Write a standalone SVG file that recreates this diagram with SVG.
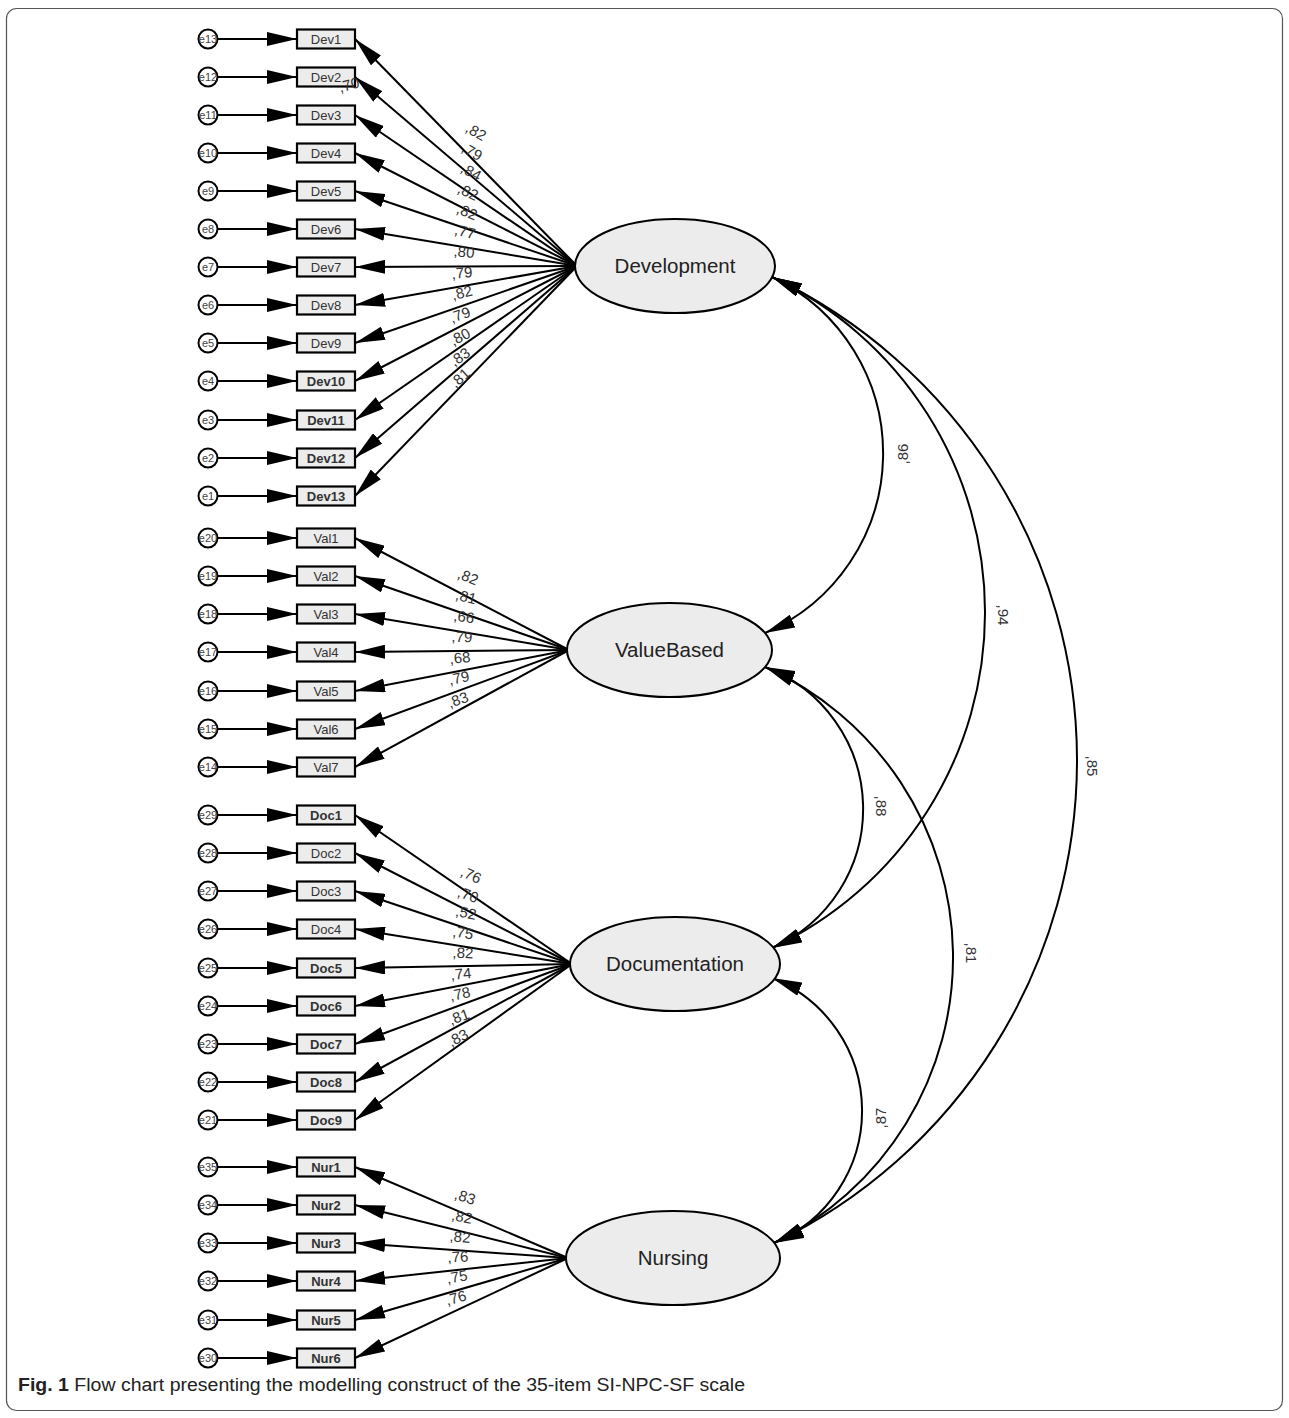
<svg xmlns="http://www.w3.org/2000/svg" width="1289" height="1418" viewBox="0 0 1289 1418">
<style>
.err{fill:#fff;stroke:#000;stroke-width:2}
.et{font-family:"Liberation Sans",Arial,sans-serif;font-size:11px;fill:#444;text-anchor:middle}
.obs{fill:#ececec;stroke:#000;stroke-width:2.2}
.ot{font-family:"Liberation Sans",Arial,sans-serif;font-size:13px;fill:#333;text-anchor:middle}
.otb{font-family:"Liberation Sans",Arial,sans-serif;font-size:13px;fill:#333;text-anchor:middle;font-weight:bold}
.lat{fill:#ececec;stroke:#000;stroke-width:2}
.lt{font-family:"Liberation Sans",Arial,sans-serif;font-size:20.5px;fill:#222;text-anchor:middle}
.cn line,.cn path{stroke:#000;stroke-width:2;fill:none}
.lab{font-family:"Liberation Sans",Arial,sans-serif;font-size:15px;fill:#333;text-anchor:middle}
.cap{font-family:"Liberation Sans",Arial,sans-serif;font-size:18px;fill:#222}
</style>
<defs>
<marker id="ah" viewBox="0 0 30 14" refX="30" refY="7" markerWidth="30" markerHeight="14" markerUnits="userSpaceOnUse" orient="auto-start-reverse"><path d="M0,0 L30,7 L0,14 Z" fill="#000"/></marker>
</defs>
<rect x="6.5" y="8.5" width="1276" height="1402" rx="10" fill="none" stroke="#555" stroke-width="1.2"/>

<g class="cn" id="connectors">
<g marker-end="url(#ah)">
<line x1="218" y1="39" x2="297" y2="39"/><line x1="218" y1="77" x2="297" y2="77"/><line x1="218" y1="115" x2="297" y2="115"/><line x1="218" y1="153" x2="297" y2="153"/><line x1="218" y1="191" x2="297" y2="191"/><line x1="218" y1="229" x2="297" y2="229"/><line x1="218" y1="267" x2="297" y2="267"/><line x1="218" y1="305" x2="297" y2="305"/><line x1="218" y1="343" x2="297" y2="343"/><line x1="218" y1="381" x2="297" y2="381"/><line x1="218" y1="420" x2="297" y2="420"/><line x1="218" y1="458" x2="297" y2="458"/><line x1="218" y1="496" x2="297" y2="496"/>
<line x1="218" y1="538" x2="297" y2="538"/><line x1="218" y1="576" x2="297" y2="576"/><line x1="218" y1="614" x2="297" y2="614"/><line x1="218" y1="652" x2="297" y2="652"/><line x1="218" y1="691" x2="297" y2="691"/><line x1="218" y1="729" x2="297" y2="729"/><line x1="218" y1="767" x2="297" y2="767"/>
<line x1="218" y1="815" x2="297" y2="815"/><line x1="218" y1="853" x2="297" y2="853"/><line x1="218" y1="891" x2="297" y2="891"/><line x1="218" y1="929" x2="297" y2="929"/><line x1="218" y1="968" x2="297" y2="968"/><line x1="218" y1="1006" x2="297" y2="1006"/><line x1="218" y1="1044" x2="297" y2="1044"/><line x1="218" y1="1082" x2="297" y2="1082"/><line x1="218" y1="1120" x2="297" y2="1120"/>
<line x1="218" y1="1167" x2="297" y2="1167"/><line x1="218" y1="1205" x2="297" y2="1205"/><line x1="218" y1="1243" x2="297" y2="1243"/><line x1="218" y1="1281" x2="297" y2="1281"/><line x1="218" y1="1320" x2="297" y2="1320"/><line x1="218" y1="1358" x2="297" y2="1358"/>
<line x1="577" y1="266" x2="355" y2="39"/><line x1="577" y1="266" x2="355" y2="77"/><line x1="577" y1="266" x2="355" y2="115"/><line x1="577" y1="266" x2="355" y2="153"/><line x1="577" y1="266" x2="355" y2="191"/><line x1="577" y1="266" x2="355" y2="229"/><line x1="577" y1="266" x2="355" y2="267"/><line x1="577" y1="266" x2="355" y2="305"/><line x1="577" y1="266" x2="355" y2="343"/><line x1="577" y1="266" x2="355" y2="381"/><line x1="577" y1="266" x2="355" y2="420"/><line x1="577" y1="266" x2="355" y2="458"/><line x1="577" y1="266" x2="355" y2="496"/>
<line x1="569" y1="650" x2="355" y2="538"/><line x1="569" y1="650" x2="355" y2="576"/><line x1="569" y1="650" x2="355" y2="614"/><line x1="569" y1="650" x2="355" y2="652"/><line x1="569" y1="650" x2="355" y2="691"/><line x1="569" y1="650" x2="355" y2="729"/><line x1="569" y1="650" x2="355" y2="767"/>
<line x1="572" y1="964" x2="355" y2="815"/><line x1="572" y1="964" x2="355" y2="853"/><line x1="572" y1="964" x2="355" y2="891"/><line x1="572" y1="964" x2="355" y2="929"/><line x1="572" y1="964" x2="355" y2="968"/><line x1="572" y1="964" x2="355" y2="1006"/><line x1="572" y1="964" x2="355" y2="1044"/><line x1="572" y1="964" x2="355" y2="1082"/><line x1="572" y1="964" x2="355" y2="1120"/>
<line x1="568" y1="1258" x2="355" y2="1167"/><line x1="568" y1="1258" x2="355" y2="1205"/><line x1="568" y1="1258" x2="355" y2="1243"/><line x1="568" y1="1258" x2="355" y2="1281"/><line x1="568" y1="1258" x2="355" y2="1320"/><line x1="568" y1="1258" x2="355" y2="1358"/>
</g>
<g marker-start="url(#ah)" marker-end="url(#ah)">
<path d="M772,277 A195.6,195.6 0 0 1 765,633"/>
<path d="M772,277 A370.7,370.7 0 0 1 772,948"/>
<path d="M772,277 A535.7,535.7 0 0 1 774,1243"/>
<path d="M765,667 A151.7,151.7 0 0 1 772,948"/>
<path d="M765,667 A317.8,317.8 0 0 1 774,1243"/>
<path d="M772,978 A143.1,143.1 0 0 1 774,1243"/>
</g>
<g>
<text transform="translate(476,132) rotate(30)" y="5" class="lab">,82</text>
<text transform="translate(472,152) rotate(30)" y="5" class="lab">,79</text>
<text transform="translate(471,172) rotate(28)" y="5" class="lab">,84</text>
<text transform="translate(468,192) rotate(25)" y="5" class="lab">,82</text>
<text transform="translate(467,212) rotate(22)" y="5" class="lab">,82</text>
<text transform="translate(465,232) rotate(14)" y="5" class="lab">,77</text>
<text transform="translate(464,252) rotate(5)" y="5" class="lab">,80</text>
<text transform="translate(462,273) rotate(-5)" y="5" class="lab">,79</text>
<text transform="translate(462,293) rotate(-14)" y="5" class="lab">,82</text>
<text transform="translate(460,315) rotate(-20)" y="5" class="lab">,79</text>
<text transform="translate(460,337) rotate(-28)" y="5" class="lab">,80</text>
<text transform="translate(460,357) rotate(-35)" y="5" class="lab">,83</text>
<text transform="translate(460,378) rotate(-42)" y="5" class="lab">,81</text>
<text transform="translate(468,577) rotate(22)" y="5" class="lab">,82</text>
<text transform="translate(466,597) rotate(15)" y="5" class="lab">,81</text>
<text transform="translate(464,617) rotate(8)" y="5" class="lab">,66</text>
<text transform="translate(462,637) rotate(3)" y="5" class="lab">,79</text>
<text transform="translate(460,658) rotate(-5)" y="5" class="lab">,68</text>
<text transform="translate(459,678) rotate(-12)" y="5" class="lab">,79</text>
<text transform="translate(458,700) rotate(-20)" y="5" class="lab">,83</text>
<text transform="translate(471,875) rotate(25)" y="5" class="lab">,76</text>
<text transform="translate(468,895) rotate(20)" y="5" class="lab">,70</text>
<text transform="translate(466,913) rotate(12)" y="5" class="lab">,52</text>
<text transform="translate(463,933) rotate(8)" y="5" class="lab">,75</text>
<text transform="translate(463,953) rotate(3)" y="5" class="lab">,82</text>
<text transform="translate(461,974) rotate(-5)" y="5" class="lab">,74</text>
<text transform="translate(460,994) rotate(-12)" y="5" class="lab">,78</text>
<text transform="translate(459,1017) rotate(-20)" y="5" class="lab">,81</text>
<text transform="translate(458,1038) rotate(-28)" y="5" class="lab">,83</text>
<text transform="translate(465,1197) rotate(18)" y="5" class="lab">,83</text>
<text transform="translate(462,1217) rotate(12)" y="5" class="lab">,82</text>
<text transform="translate(460,1237) rotate(5)" y="5" class="lab">,82</text>
<text transform="translate(458,1257) rotate(-3)" y="5" class="lab">,76</text>
<text transform="translate(457,1277) rotate(-10)" y="5" class="lab">,75</text>
<text transform="translate(456,1298) rotate(-15)" y="5" class="lab">,76</text>
<text transform="translate(903,454) rotate(-90)" y="5" class="lab">,86</text>
<text transform="translate(1003,615) rotate(90)" y="5" class="lab">,94</text>
<text transform="translate(1092,766) rotate(90)" y="5" class="lab">,85</text>
<text transform="translate(881,806) rotate(90)" y="5" class="lab">,88</text>
<text transform="translate(971,953) rotate(90)" y="5" class="lab">,81</text>
<text transform="translate(881,1118) rotate(-90)" y="5" class="lab">,87</text>
</g>
</g>

<g id="errors">
<g id="e13"><circle cx="208" cy="39" r="9.5" class="err"/><text x="208" y="43" class="et">e13</text></g>
<g id="e12"><circle cx="208" cy="77" r="9.5" class="err"/><text x="208" y="81" class="et">e12</text></g>
<g id="e11"><circle cx="208" cy="115" r="9.5" class="err"/><text x="208" y="119" class="et">e11</text></g>
<g id="e10"><circle cx="208" cy="153" r="9.5" class="err"/><text x="208" y="157" class="et">e10</text></g>
<g id="e9"><circle cx="208" cy="191" r="9.5" class="err"/><text x="208" y="195" class="et">e9</text></g>
<g id="e8"><circle cx="208" cy="229" r="9.5" class="err"/><text x="208" y="233" class="et">e8</text></g>
<g id="e7"><circle cx="208" cy="267" r="9.5" class="err"/><text x="208" y="271" class="et">e7</text></g>
<g id="e6"><circle cx="208" cy="305" r="9.5" class="err"/><text x="208" y="309" class="et">e6</text></g>
<g id="e5"><circle cx="208" cy="343" r="9.5" class="err"/><text x="208" y="347" class="et">e5</text></g>
<g id="e4"><circle cx="208" cy="381" r="9.5" class="err"/><text x="208" y="385" class="et">e4</text></g>
<g id="e3"><circle cx="208" cy="420" r="9.5" class="err"/><text x="208" y="424" class="et">e3</text></g>
<g id="e2"><circle cx="208" cy="458" r="9.5" class="err"/><text x="208" y="462" class="et">e2</text></g>
<g id="e1"><circle cx="208" cy="496" r="9.5" class="err"/><text x="208" y="500" class="et">e1</text></g>
<g id="e20"><circle cx="208" cy="538" r="9.5" class="err"/><text x="208" y="542" class="et">e20</text></g>
<g id="e19"><circle cx="208" cy="576" r="9.5" class="err"/><text x="208" y="580" class="et">e19</text></g>
<g id="e18"><circle cx="208" cy="614" r="9.5" class="err"/><text x="208" y="618" class="et">e18</text></g>
<g id="e17"><circle cx="208" cy="652" r="9.5" class="err"/><text x="208" y="656" class="et">e17</text></g>
<g id="e16"><circle cx="208" cy="691" r="9.5" class="err"/><text x="208" y="695" class="et">e16</text></g>
<g id="e15"><circle cx="208" cy="729" r="9.5" class="err"/><text x="208" y="733" class="et">e15</text></g>
<g id="e14"><circle cx="208" cy="767" r="9.5" class="err"/><text x="208" y="771" class="et">e14</text></g>
<g id="e29"><circle cx="208" cy="815" r="9.5" class="err"/><text x="208" y="819" class="et">e29</text></g>
<g id="e28"><circle cx="208" cy="853" r="9.5" class="err"/><text x="208" y="857" class="et">e28</text></g>
<g id="e27"><circle cx="208" cy="891" r="9.5" class="err"/><text x="208" y="895" class="et">e27</text></g>
<g id="e26"><circle cx="208" cy="929" r="9.5" class="err"/><text x="208" y="933" class="et">e26</text></g>
<g id="e25"><circle cx="208" cy="968" r="9.5" class="err"/><text x="208" y="972" class="et">e25</text></g>
<g id="e24"><circle cx="208" cy="1006" r="9.5" class="err"/><text x="208" y="1010" class="et">e24</text></g>
<g id="e23"><circle cx="208" cy="1044" r="9.5" class="err"/><text x="208" y="1048" class="et">e23</text></g>
<g id="e22"><circle cx="208" cy="1082" r="9.5" class="err"/><text x="208" y="1086" class="et">e22</text></g>
<g id="e21"><circle cx="208" cy="1120" r="9.5" class="err"/><text x="208" y="1124" class="et">e21</text></g>
<g id="e35"><circle cx="208" cy="1167" r="9.5" class="err"/><text x="208" y="1171" class="et">e35</text></g>
<g id="e34"><circle cx="208" cy="1205" r="9.5" class="err"/><text x="208" y="1209" class="et">e34</text></g>
<g id="e33"><circle cx="208" cy="1243" r="9.5" class="err"/><text x="208" y="1247" class="et">e33</text></g>
<g id="e32"><circle cx="208" cy="1281" r="9.5" class="err"/><text x="208" y="1285" class="et">e32</text></g>
<g id="e31"><circle cx="208" cy="1320" r="9.5" class="err"/><text x="208" y="1324" class="et">e31</text></g>
<g id="e30"><circle cx="208" cy="1358" r="9.5" class="err"/><text x="208" y="1362" class="et">e30</text></g>
</g>

<g id="observed">
<g id="Dev1"><rect x="297" y="29.5" width="58" height="19" class="obs"/><text x="326" y="43.5" class="ot">Dev1</text></g>
<g id="Dev2"><rect x="297" y="67.5" width="58" height="19" class="obs"/><text x="326" y="81.5" class="ot">Dev2</text></g>
<g id="Dev3"><rect x="297" y="105.5" width="58" height="19" class="obs"/><text x="326" y="119.5" class="ot">Dev3</text></g>
<g id="Dev4"><rect x="297" y="143.5" width="58" height="19" class="obs"/><text x="326" y="157.5" class="ot">Dev4</text></g>
<g id="Dev5"><rect x="297" y="181.5" width="58" height="19" class="obs"/><text x="326" y="195.5" class="ot">Dev5</text></g>
<g id="Dev6"><rect x="297" y="219.5" width="58" height="19" class="obs"/><text x="326" y="233.5" class="ot">Dev6</text></g>
<g id="Dev7"><rect x="297" y="257.5" width="58" height="19" class="obs"/><text x="326" y="271.5" class="ot">Dev7</text></g>
<g id="Dev8"><rect x="297" y="295.5" width="58" height="19" class="obs"/><text x="326" y="309.5" class="ot">Dev8</text></g>
<g id="Dev9"><rect x="297" y="333.5" width="58" height="19" class="obs"/><text x="326" y="347.5" class="ot">Dev9</text></g>
<g id="Dev10"><rect x="297" y="371.5" width="58" height="19" class="obs"/><text x="326" y="385.5" class="otb">Dev10</text></g>
<g id="Dev11"><rect x="297" y="410.5" width="58" height="19" class="obs"/><text x="326" y="424.5" class="otb">Dev11</text></g>
<g id="Dev12"><rect x="297" y="448.5" width="58" height="19" class="obs"/><text x="326" y="462.5" class="otb">Dev12</text></g>
<g id="Dev13"><rect x="297" y="486.5" width="58" height="19" class="obs"/><text x="326" y="500.5" class="otb">Dev13</text></g>
<g id="Val1"><rect x="297" y="528.5" width="58" height="19" class="obs"/><text x="326" y="542.5" class="ot">Val1</text></g>
<g id="Val2"><rect x="297" y="566.5" width="58" height="19" class="obs"/><text x="326" y="580.5" class="ot">Val2</text></g>
<g id="Val3"><rect x="297" y="604.5" width="58" height="19" class="obs"/><text x="326" y="618.5" class="ot">Val3</text></g>
<g id="Val4"><rect x="297" y="642.5" width="58" height="19" class="obs"/><text x="326" y="656.5" class="ot">Val4</text></g>
<g id="Val5"><rect x="297" y="681.5" width="58" height="19" class="obs"/><text x="326" y="695.5" class="ot">Val5</text></g>
<g id="Val6"><rect x="297" y="719.5" width="58" height="19" class="obs"/><text x="326" y="733.5" class="ot">Val6</text></g>
<g id="Val7"><rect x="297" y="757.5" width="58" height="19" class="obs"/><text x="326" y="771.5" class="ot">Val7</text></g>
<g id="Doc1"><rect x="297" y="805.5" width="58" height="19" class="obs"/><text x="326" y="819.5" class="otb">Doc1</text></g>
<g id="Doc2"><rect x="297" y="843.5" width="58" height="19" class="obs"/><text x="326" y="857.5" class="ot">Doc2</text></g>
<g id="Doc3"><rect x="297" y="881.5" width="58" height="19" class="obs"/><text x="326" y="895.5" class="ot">Doc3</text></g>
<g id="Doc4"><rect x="297" y="919.5" width="58" height="19" class="obs"/><text x="326" y="933.5" class="ot">Doc4</text></g>
<g id="Doc5"><rect x="297" y="958.5" width="58" height="19" class="obs"/><text x="326" y="972.5" class="otb">Doc5</text></g>
<g id="Doc6"><rect x="297" y="996.5" width="58" height="19" class="obs"/><text x="326" y="1010.5" class="otb">Doc6</text></g>
<g id="Doc7"><rect x="297" y="1034.5" width="58" height="19" class="obs"/><text x="326" y="1048.5" class="otb">Doc7</text></g>
<g id="Doc8"><rect x="297" y="1072.5" width="58" height="19" class="obs"/><text x="326" y="1086.5" class="otb">Doc8</text></g>
<g id="Doc9"><rect x="297" y="1110.5" width="58" height="19" class="obs"/><text x="326" y="1124.5" class="otb">Doc9</text></g>
<g id="Nur1"><rect x="297" y="1157.5" width="58" height="19" class="obs"/><text x="326" y="1171.5" class="otb">Nur1</text></g>
<g id="Nur2"><rect x="297" y="1195.5" width="58" height="19" class="obs"/><text x="326" y="1209.5" class="otb">Nur2</text></g>
<g id="Nur3"><rect x="297" y="1233.5" width="58" height="19" class="obs"/><text x="326" y="1247.5" class="otb">Nur3</text></g>
<g id="Nur4"><rect x="297" y="1271.5" width="58" height="19" class="obs"/><text x="326" y="1285.5" class="otb">Nur4</text></g>
<g id="Nur5"><rect x="297" y="1310.5" width="58" height="19" class="obs"/><text x="326" y="1324.5" class="otb">Nur5</text></g>
<g id="Nur6"><rect x="297" y="1348.5" width="58" height="19" class="obs"/><text x="326" y="1362.5" class="otb">Nur6</text></g>
</g>

<g id="Development"><ellipse cx="675" cy="266" rx="100" ry="47" class="lat"/><text x="675" y="273" class="lt">Development</text></g>
<g id="ValueBased"><ellipse cx="669.5" cy="650" rx="102.5" ry="47" class="lat"/><text x="669.5" y="657" class="lt">ValueBased</text></g>
<g id="Documentation"><ellipse cx="675" cy="964" rx="105" ry="47" class="lat"/><text x="675" y="971" class="lt">Documentation</text></g>
<g id="Nursing"><ellipse cx="673" cy="1258" rx="107" ry="47" class="lat"/><text x="673" y="1265" class="lt">Nursing</text></g>

<text transform="translate(349,85) rotate(-15)" y="5" class="lab">,70</text>

<text x="18" y="1391" class="cap" textLength="727" lengthAdjust="spacingAndGlyphs"><tspan font-weight="bold">Fig. 1</tspan> Flow chart presenting the modelling construct of the 35-item SI-NPC-SF scale</text>
</svg>
